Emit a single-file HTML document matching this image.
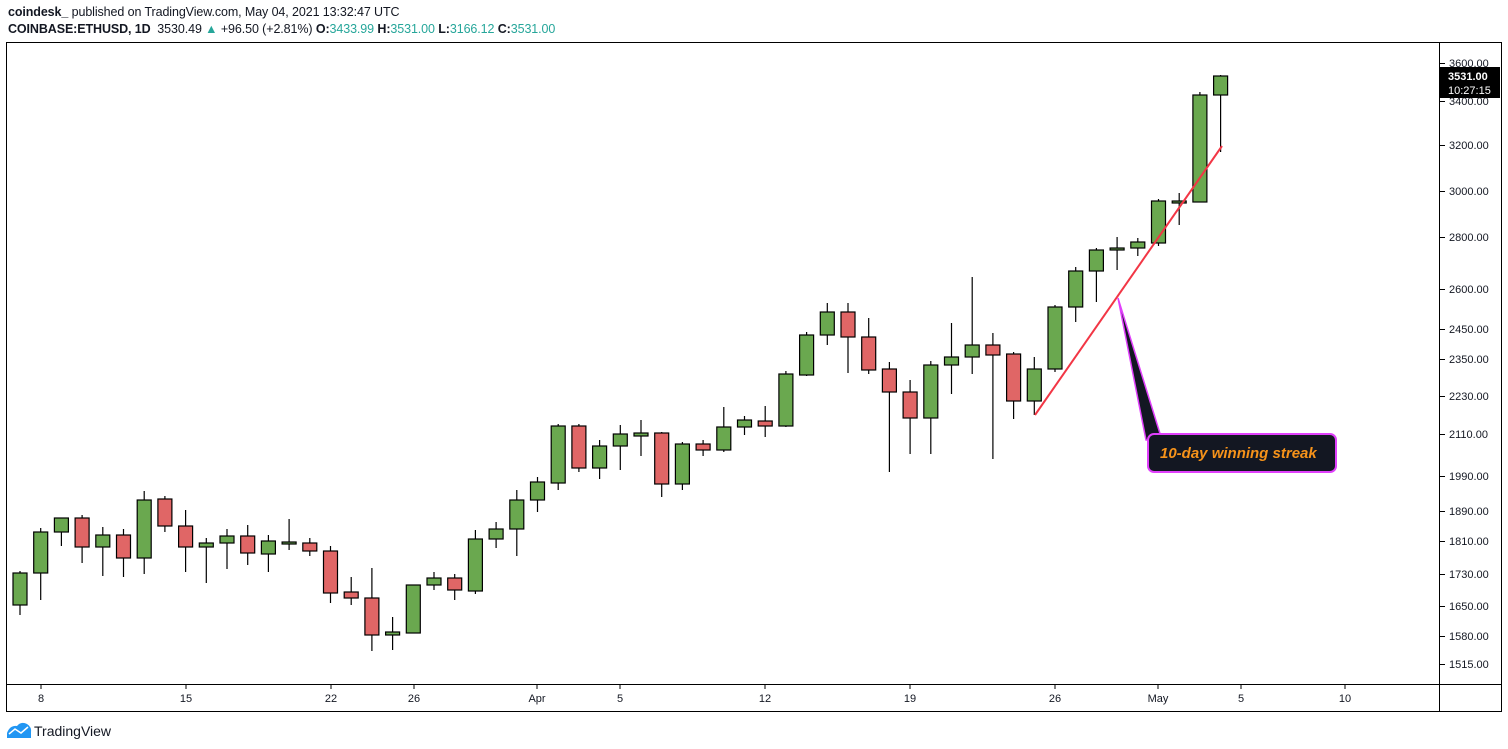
<!DOCTYPE html>
<html><head><meta charset="utf-8"><style>
body{margin:0;background:#fff;width:1508px;height:749px;overflow:hidden;font-family:"Liberation Sans",sans-serif}
.h1{position:absolute;left:8px;top:5px;font-size:12.5px;letter-spacing:-0.1px;color:#131722}
.h2{position:absolute;left:8px;top:22px;font-size:12.5px;letter-spacing:-0.1px;color:#131722}
.t{color:#26a69a}
</style></head><body>
<div class="h1"><b>coindesk_</b> published on TradingView.com, May 04, 2021 13:32:47 UTC</div>
<div class="h2"><b>COINBASE:ETHUSD, 1D</b>&nbsp; 3530.49 <span class="t">▲</span> +96.50 (+2.81%) <b>O:</b><span class="t">3433.99</span> <b>H:</b><span class="t">3531.00</span> <b>L:</b><span class="t">3166.12</span> <b>C:</b><span class="t">3531.00</span></div>
<svg width="1508" height="749" style="position:absolute;left:0;top:0" font-family="Liberation Sans, sans-serif">
<rect x="6.5" y="42.5" width="1495" height="669" fill="none" stroke="#000"/>
<line x1="6" y1="684.5" x2="1502" y2="684.5" stroke="#000"/>
<line x1="1439.5" y1="42" x2="1439.5" y2="712" stroke="#000"/>
<g id="c" stroke="#000" stroke-width="1.2"></g>
<g font-size="11" fill="#131722" id="yl"></g>
<g font-size="11" fill="#131722" id="xl" text-anchor="middle"></g>
<line x1="1035" y1="415" x2="1222" y2="146" stroke="#f23645" stroke-width="2"/>
<polygon points="1118,298 1146,440 1162,440" fill="#131722" stroke="#e040fb" stroke-width="1.5"/>
<rect x="1148" y="434" width="188" height="38" rx="6" fill="#131722" stroke="#e040fb" stroke-width="2"/>
<text x="1160" y="458" font-size="15" font-weight="bold" font-style="italic" fill="#f7931a">10-day winning streak</text>
<rect x="1440" y="67" width="60" height="31" fill="#000"/>
<text x="1448" y="80" font-size="11" font-weight="bold" fill="#fff">3531.00</text>
<text x="1448" y="94" font-size="11" fill="#fff">10:27:15</text>
<path d="M7 738 L7 733 Q10 725 17 726 Q21 721 27 724 Q32 727 31 733 L31 738 Z" fill="#2196f3"/>
<polyline points="9,734 15,729 21,733 28,727" fill="none" stroke="#fff" stroke-width="1.5"/>
<text x="34" y="736" font-size="14" fill="#131722">TradingView</text>
</svg>
<script>
var d=[[573,605,571,615,1],[532,573,528,600,1],[518,532,518,546,1],[518,547,515,563,0],[535,547,527,576,1],[535,558,529,577,0],[500,558,491,574,1],[499,526,496,532,0],[526,547,510,572,0],[543,547,538,583,1],[536,543,529,569,1],[536,553,525,565,0],[541,554,535,572,1],[542,544,519,550,1],[543,551,538,556,0],[551,593,546,603,0],[592,598,577,605,0],[598,635,568,651,0],[632,635,617,650,1],[585,633,585,633,1],[578,585,572,590,1],[578,590,574,600,0],[539,591,530,594,1],[529,539,522,548,1],[500,529,490,556,1],[482,500,477,512,1],[426,483,424,490,1],[426,468,424,472,0],[446,468,440,479,1],[434,446,425,470,1],[433,436,420,456,1],[433,484,432,497,0],[444,484,442,490,1],[444,450,440,456,0],[427,450,407,452,1],[420,427,416,435,1],[421,426,406,437,0],[374,426,371,427,1],[335,375,332,376,1],[312,335,303,345,1],[312,337,303,373,0],[337,370,318,374,0],[369,392,362,472,0],[392,418,380,454,0],[365,418,361,454,1],[357,365,323,394,1],[345,357,277,374,1],[345,355,333,459,0],[354,401,352,419,0],[369,401,357,415,1],[307,369,305,372,1],[271,307,267,322,1],[250,271,248,302,1],[248,250,237,270,1],[242,248,238,256,1],[201,243,199,246,1],[201,203,193,225,1],[95,202,92,202,1],[76,95,75,152,1]];
var ns="http://www.w3.org/2000/svg",g=document.getElementById('c');
function el(t,a,p){var e=document.createElementNS(ns,t);for(var k in a)e.setAttribute(k,a[k]);(p||g).appendChild(e);return e}
d.forEach(function(c,i){var x=20+20.7*i;el('line',{x1:x,x2:x,y1:c[2],y2:c[3]});el('rect',{x:x-7,y:c[0],width:14,height:Math.max(c[1]-c[0],2),fill:c[4]?'#6aa84f':'#e06666'});});
var yl=document.getElementById('yl');
[[3600,63],[3400,101],[3200,145],[3000,191],[2800,237],[2600,289],[2450,329],[2350,359],[2230,396],[2110,434],[1990,476],[1890,511],[1810,541],[1730,574],[1650,606],[1580,636],[1515,664]].forEach(function(p){el('line',{x1:1440,x2:1445,y1:p[1]+.5,y2:p[1]+.5,stroke:'#000'},yl);var t=el('text',{x:1449,y:p[1]+4},yl);t.textContent=p[0].toFixed(2);});
var xl=document.getElementById('xl');
[['8',41],['15',186],['22',331],['26',414],['Apr',537],['5',620],['12',765],['19',910],['26',1055],['May',1158],['5',1241],['10',1345]].forEach(function(p){el('line',{x1:p[1],x2:p[1],y1:684,y2:689,stroke:'#000'},xl);var t=el('text',{x:p[1],y:702},xl);t.textContent=p[0];});
</script>
</body></html>
